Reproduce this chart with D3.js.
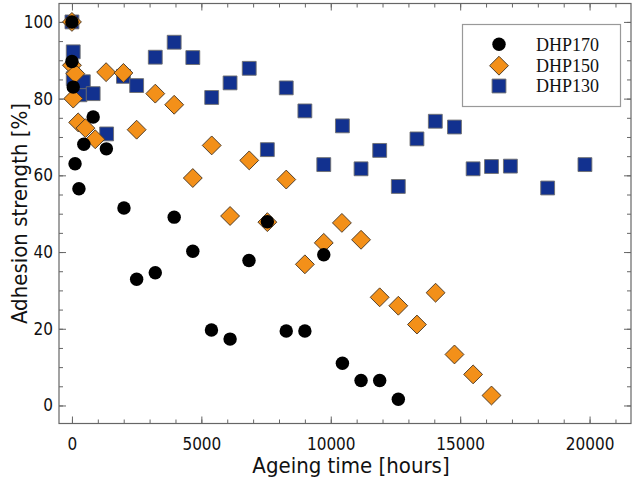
<!DOCTYPE html>
<html>
<head>
<meta charset="utf-8">
<script src="https://cdn.jsdelivr.net/npm/d3@7"></script>
<style>
  body { margin: 0; background: #fff; }
  .tickLabels text { font-family: "DejaVu Sans Condensed", "DejaVu Sans", sans-serif; font-size: 17px; fill: #111; }
  .axisTitle { font-family: "DejaVu Sans Condensed", "DejaVu Sans", sans-serif; font-size: 22px; fill: #111; }
  .legendText { font-family: "Liberation Serif", "Times New Roman", serif; font-size: 18px; fill: #111; }
</style>
</head>
<body>
<script>
// data: ageing time [hours] and adhesion strength [%]
var dhp170Hours    = [0, 0, 50, 120, 270, 460, 820, 1330, 2010, 2500, 3220, 3950, 4670, 5390, 6110, 6840, 7550, 8280, 9000, 9730, 10450, 11170, 11890, 12610];
var dhp170Strength = [100, 89.7, 83.0, 63.0, 56.5, 68.1, 75.2, 66.9, 51.5, 32.9, 34.6, 49.1, 40.2, 19.7, 17.3, 37.8, 47.9, 19.4, 19.4, 39.3, 11.0, 6.5, 6.5, 1.6];

var dhp150Hours    = [0, 0, 50, 130, 240, 520, 900, 1320, 1990, 2500, 3220, 3950, 4670, 5400, 6110, 6850, 7550, 8280, 9000, 9730, 10430, 11170, 11890, 12610, 13330, 14050, 14780, 15500, 16210];
var dhp150Strength = [100, 88.7, 80.0, 86.5, 73.8, 72.3, 69.4, 86.9, 86.7, 71.9, 81.3, 78.4, 59.3, 67.8, 49.4, 63.9, 47.8, 58.9, 36.8, 42.4, 47.6, 43.2, 28.2, 26.0, 21.1, 29.4, 13.3, 8.1, 2.6];

var dhp130Hours    = [0, 50, 50, 310, 440, 820, 1340, 1990, 2500, 3220, 3950, 4670, 5400, 6110, 6850, 7550, 8280, 9000, 9730, 10450, 11170, 11890, 12610, 13330, 14040, 14780, 15500, 16210, 16940, 18380, 19820];
var dhp130Strength = [100, 92.2, 85.2, 81.0, 84.4, 81.3, 70.8, 85.8, 83.4, 90.8, 94.7, 90.7, 80.3, 84.1, 87.9, 66.7, 82.8, 76.8, 62.8, 72.9, 61.7, 66.5, 57.1, 69.5, 74.1, 72.6, 61.7, 62.3, 62.4, 56.7, 62.8];

var seriesNames = ["DHP170", "DHP150", "DHP130"];
var xMajorTicks = [0, 5000, 10000, 15000, 20000];
var yMajorTicks = [0, 20, 40, 60, 80, 100];

var width = 633;
var height = 482;
var plot = {"left": 59, "right": 631, "top": 3.5, "bottom": 423.5};

var x = d3.scaleLinear().domain([-500, 21600]).range([plot.left, plot.right]);
var y = d3.scaleLinear().domain([-4.7, 104.8]).range([plot.bottom, plot.top]);

var svg = d3.select("body").append("svg")
    .attr("width", width)
    .attr("height", height);

var spineColor = "#666";

//ticks pointing into the plot, on all four sides
function drawAxes(){
    var xMinor = d3.range(0, 21001, 1000);
    var yMinor = d3.range(0, 101, 5);

    var axes = [
        [d3.axisBottom(x).tickValues(xMinor).tickSize(-4).tickFormat(""), "translate(0," + plot.bottom + ")"],
        [d3.axisTop(x).tickValues(xMinor).tickSize(-4).tickFormat(""), "translate(0," + plot.top + ")"],
        [d3.axisLeft(y).tickValues(yMinor).tickSize(-4).tickFormat(""), "translate(" + plot.left + ",0)"],
        [d3.axisRight(y).tickValues(yMinor).tickSize(-4).tickFormat(""), "translate(" + plot.right + ",0)"],
        [d3.axisTop(x).tickValues(xMajorTicks).tickSize(-7).tickFormat(""), "translate(0," + plot.top + ")"],
        [d3.axisRight(y).tickValues(yMajorTicks).tickSize(-7).tickFormat(""), "translate(" + plot.right + ",0)"]
    ];
    axes.forEach(function(a){
        var g = svg.append("g").attr("transform", a[1]).call(a[0]);
        g.select(".domain").remove();
        g.selectAll("line").attr("stroke", spineColor);
    });

    var xg = svg.append("g")
        .attr("class", "tickLabels")
        .attr("transform", "translate(0," + plot.bottom + ")")
        .call(d3.axisBottom(x).tickValues(xMajorTicks).tickSize(-7).tickPadding(10).tickFormat(d3.format("d")));
    xg.select(".domain").remove();
    xg.selectAll("line").attr("stroke", spineColor);
    xg.selectAll("text").attr("dy", "0.95em").attr("font-family", null).attr("font-size", null);

    var yg = svg.append("g")
        .attr("class", "tickLabels")
        .attr("transform", "translate(" + plot.left + ",0)")
        .call(d3.axisLeft(y).tickValues(yMajorTicks).tickSize(-7).tickPadding(6).tickFormat(d3.format("d")));
    yg.select(".domain").remove();
    yg.selectAll("line").attr("stroke", spineColor);
    yg.selectAll("text").attr("font-family", null).attr("font-size", null);

    svg.append("rect")
        .attr("x", plot.left)
        .attr("y", plot.top)
        .attr("width", plot.right - plot.left)
        .attr("height", plot.bottom - plot.top)
        .attr("fill", "none")
        .attr("stroke", spineColor)
        .attr("stroke-width", 1.2);

    svg.append("text")
        .attr("class", "axisTitle")
        .attr("x", 351)
        .attr("y", 473)
        .attr("text-anchor", "middle")
        .text("Ageing time [hours]");

    svg.append("text")
        .attr("class", "axisTitle")
        .attr("transform", "translate(27,213.5) rotate(-90)")
        .attr("text-anchor", "middle")
        .text("Adhesion strength [%]");
}

var circleSym  = d3.symbol().type(d3.symbolCircle).size(142);
var diamondSym = d3.symbol().type(d3.symbolSquare).size(178);
var squareSym  = d3.symbol().type(d3.symbolSquare).size(192);

var styles = {
    "DHP170": {"sym": circleSym,  "fill": "#000",    "stroke": "none", "rot": 0},
    "DHP150": {"sym": diamondSym, "fill": "#f39019", "stroke": "#4a3a28", "rot": 45},
    "DHP130": {"sym": squareSym,  "fill": "#12318f", "stroke": "#6f6f6f", "rot": 0}
};

function drawSeries(name, hours, strength){
    var s = styles[name];
    var pts = hours.map(function(h, i){ return {"h": h, "v": strength[i]}; });
    svg.append("g").attr("class", name).selectAll("path").data(pts)
        .enter().append("path")
        .attr("d", s.sym())
        .attr("transform", function(d){ return "translate(" + x(d.h) + "," + y(d.v) + ") rotate(" + s.rot + ")"; })
        .attr("fill", s.fill)
        .attr("stroke", s.stroke)
        .attr("stroke-width", 0.9);
}

function drawLegend(){
    var lg = svg.append("g").attr("class", "legend");
    lg.append("rect")
        .attr("x", 462.5).attr("y", 24.5)
        .attr("width", 158).attr("height", 82)
        .attr("fill", "#fff")
        .attr("stroke", "#999")
        .attr("stroke-width", 1.2);
    var rowY = [44.3, 65.7, 86];
    seriesNames.forEach(function(name, i){
        var s = styles[name];
        lg.append("path")
            .attr("d", s.sym())
            .attr("transform", "translate(499," + rowY[i] + ") rotate(" + s.rot + ")")
            .attr("fill", s.fill)
            .attr("stroke", s.stroke)
            .attr("stroke-width", 0.9);
        lg.append("text")
            .attr("class", "legendText")
            .attr("x", 536)
            .attr("y", rowY[i] + 6.3)
            .text(name);
    });
}

drawAxes();
drawSeries("DHP130", dhp130Hours, dhp130Strength);
drawSeries("DHP150", dhp150Hours, dhp150Strength);
drawSeries("DHP170", dhp170Hours, dhp170Strength);
drawLegend();
</script>
</body>
</html>
